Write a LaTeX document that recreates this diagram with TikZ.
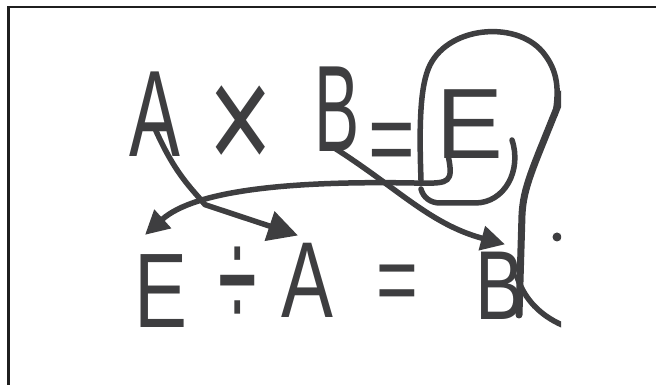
\documentclass[tikz,border=0pt]{standalone}
\usepackage{fontspec}
\setmainfont{Liberation Sans}
\usetikzlibrary{arrows.meta}
\definecolor{ink}{RGB}{62,62,64}
\newcommand\handtext[4]{\fontsize{#1}{#1}\selectfont\scalebox{#2}[#3]{#4}}

\begin{document}
\begin{tikzpicture}[x=1pt,y=1pt,
    letter/.style={inner sep=0pt,text=ink,anchor=base},
    stroke/.style={draw=ink,line width=5.5pt,line cap=round,line join=round},
    arrow/.style={stroke,-{Triangle[length=24pt,width=24pt]}}]
    \useasboundingbox (0,0) rectangle (656,385);
    \draw[line width=2.5pt,black!88] (8.5,0) -- (8.5,378) -- (656,378);
    \begin{scope}
    \clip (0,0) rectangle (561,385);
    % top row
    \node[letter] (topA) at (155,228) {\handtext{123}{0.62}{1}{A}};
    \node[letter] (times) at (241,212) {\handtext{130}{0.85}{1.2}{×}};
    \node[letter] (topB) at (337,233) {\handtext{123}{0.55}{1}{B}};
    \node[letter] (topeq) at (392,210) {\handtext{123}{0.65}{0.85}{=}};
    \node[letter] (topE) at (470,226) {\handtext{100}{1.0}{1}{E}};
    % bottom row
    \node[letter] (botE) at (161,57) {\handtext{106}{0.75}{1}{E}};
    \node[letter] (div) at (238,54) {\handtext{100}{0.7}{1.5}{÷}};
    \node[letter] (botA) at (307,67) {\handtext{108}{0.72}{1}{A}};
    \node[letter] (boteq) at (397,71) {\handtext{110}{0.65}{0.9}{=}};
    \node[letter] (botB) at (500,65) {\handtext{98}{0.75}{1}{B}};
    % arrows
    \draw[arrow,-{Triangle[length=30pt,width=30pt]}] ([yshift=-14pt]topA.center)
        .. controls +(20,-45) and +(-15,18) .. ++(50,-76) -- ([shift={(-9pt,8pt)}]botA.north);
    \draw[arrow] ([shift={(-7pt,7pt)}]topB.south) to[out=-32,in=165] ([shift={(5pt,8pt)}]botB.north);
    \draw[arrow] ([shift={(12pt,2pt)}]topE.south west) .. controls +(5,-25) and +(25,0) .. ++(-25,-26)
        .. controls +(-130,3) and +(50,45) .. ([shift={(-16pt,20pt)}]botE.north);
    % loop round E
    \draw[stroke] (421,205) .. controls (419,260) and (420,300) .. (430,320)
        .. controls (450,360) and (520,365) .. (545,330) .. controls (560,310) and (558,290) .. (555,270);
    \draw[stroke] (512,245) .. controls (522,215) and (505,182) .. (475,182) -- (440,182)
        .. controls (430,182) and (423,188) .. (421,196);
    % stroke on the right
    \draw[stroke,line width=7pt] (563,292) -- (540,235) .. controls (528,205) and (523,190) .. (522,170) -- (519,70);
    \draw[stroke] (517,108) .. controls (525,85) and (540,70) .. (562,60);
    \fill[ink] (557,148) circle (4.5pt);
    \end{scope}
\end{tikzpicture}
\end{document}
